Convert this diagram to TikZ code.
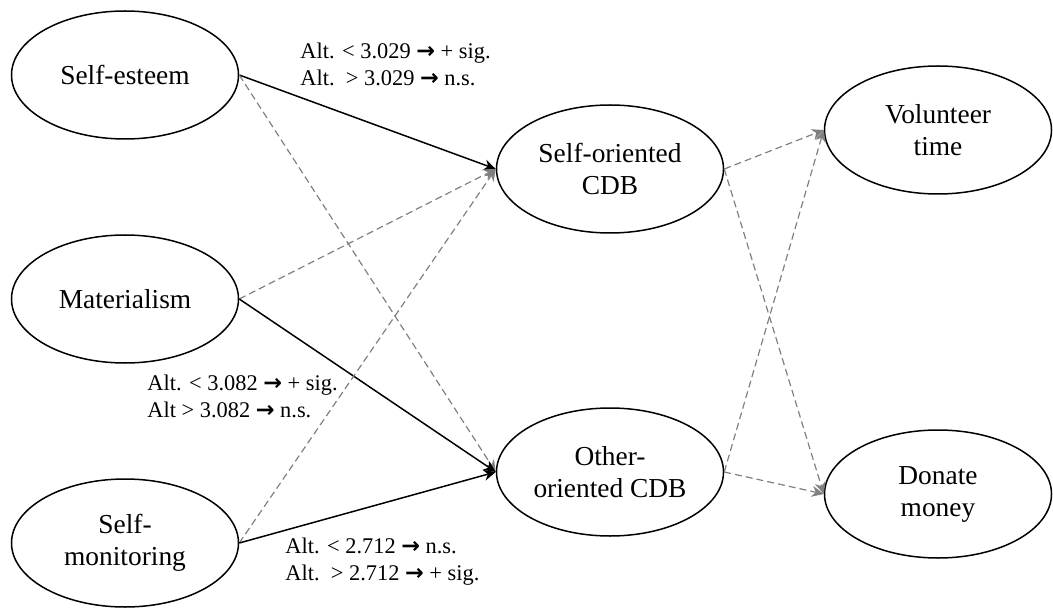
\documentclass[tikz,border=0pt]{standalone}
\usepackage{fontspec}
\setmainfont{Liberation Serif}
\newfontfamily\arrowfont{DejaVu Sans}
\usetikzlibrary{shapes.geometric,arrows.meta}
\newcommand{\sigto}{{\arrowfont\bfseries →}}
\tikzset{
	construct/.style={draw, ellipse, line width=0.75pt, minimum width=113.5pt, minimum height=64pt, inner sep=0pt, align=center, font=\fontsize{13.7}{16}\selectfont},
	sigpath/.style={line width=0.75pt, -{Stealth[length=6pt,width=5.5pt]}},
	nspath/.style={gray, line width=0.6pt, dash pattern=on 3.5pt off 2pt, -{Stealth[length=6pt,width=5.5pt]}},
	altlabel/.style={anchor=west, align=left, inner sep=0pt, font=\fontsize{11.2}{13.5}\selectfont}
}
\begin{document}
\begin{tikzpicture}[x=0.5pt, y=-0.5pt]
		\useasboundingbox (0,0) rectangle (1053,614);
		% Antecedents
		\node[construct] (esteem) at (125,75) {Self-esteem};
		\node[construct] (mat) at (125,299) {Materialism};
		\node[construct] (monitor) at (125,543) {Self-\\monitoring};
		% CDB
		\node[construct] (selfcdb) at (610,169) {Self-oriented\\CDB};
		\node[construct] (othercdb) at (610,472) {Other-\\oriented CDB};
		% Outcomes
		\node[construct] (volunteer) at (938,130) {Volunteer\\time};
		\node[construct] (donate) at (938,494) {Donate\\money};
		% Paths
		\draw[sigpath] (esteem.east) -- (selfcdb.west);
		\draw[nspath] (esteem.east) -- (othercdb.west);
		\draw[nspath] (mat.east) -- (selfcdb.west);
		\draw[sigpath] (mat.east) -- (othercdb.west);
		\draw[nspath] (monitor.east) -- (selfcdb.west);
		\draw[sigpath] (monitor.east) -- (othercdb.west);
		\foreach \s in {selfcdb,othercdb}
			\foreach \t in {volunteer,donate}
				\draw[nspath] (\s.east) -- (\t.west);
		% Moderation labels
		\node[altlabel] (alt1) at (300,64) {Alt. < 3.029 \sigto{} + sig.\\Alt.\ \ > 3.029 \sigto{} n.s.};
		\node[altlabel] (alt2) at (147,396) {Alt. < 3.082 \sigto{} + sig.\\Alt > 3.082 \sigto{} n.s.};
		\node[altlabel] (alt3) at (285,562) {Alt. < 2.712 \sigto{} n.s.\\Alt.\ \ > 2.712 \sigto{} + sig.};
	\end{tikzpicture}
\end{document}
